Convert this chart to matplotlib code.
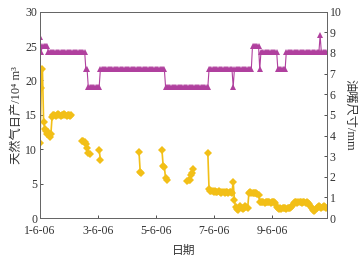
#!/usr/bin/env python3

import matplotlib
matplotlib.use("Agg")
import matplotlib.pyplot as plt
import numpy as np


# hourly samples, x axis in days from 1-6-06
TICK_DAYS = [0, 2, 4, 6, 8]
TICK_LABELS = ["1-6-06", "3-6-06", "5-6-06", "7-6-06", "9-6-06"]

# choke size (right axis), run-length encoded: value, number of hourly samples
CHOKE_MM = [8.75, 8.05, 8.35, 8.05, 7.2, 6.35, 7.2, 6.35, 7.2, 6.35, 7.2,
            8.35, 7.2, 8.05, 7.2, 8.05, 8.85, 8.05]
CHOKE_HOURS = [1, 1, 5, 31, 2, 10, 54, 36, 20, 1, 15, 6, 1, 14, 7, 28, 1, 5]

# gas rate (left axis), recorded in separate stretches
GAS_START_HOUR = [0, 35, 49, 82, 101, 122, 139]
GAS_SEGMENTS = [
    [10.9, 18.9, 21.7, 14.0, 13.0, 12.6, 12.2, 12.5, 11.8, 12.2, 14.7,
     15.0, 15.0, 14.9, 15.0, 15.1, 15.0, 14.9, 15.0, 15.0, 15.1, 15.0,
     14.9, 15.0, 15.0, 14.9, 15.0],
    [11.2, 11.2, 11.1, 10.8, 10.2, 9.5, 9.3],
    [9.9, 8.5],
    [9.6, 6.7, 6.5],
    [9.9, 7.6, 7.4, 5.8, 5.6],
    [5.4, 5.5, 5.6, 6.2, 6.6, 7.1],
    [9.5,
     4.2, 4.0, 3.9, 3.9, 3.8, 3.9, 3.8, 3.8, 3.9, 3.8, 3.7, 3.8, 3.8, 3.7,
     3.8, 3.8, 3.7, 3.8, 3.8, 3.7,
     5.3, 2.6,
     1.6, 1.3, 1.2, 1.4, 1.7, 1.5, 1.3, 1.5, 1.8, 1.6, 1.5,
     3.6, 3.8, 3.7, 3.7, 3.6, 3.7, 3.6, 3.5, 3.4,
     2.4, 2.3, 2.4, 2.3, 2.2, 2.3, 2.4, 2.3, 2.3, 2.2, 2.3, 2.4, 2.3, 2.2,
     1.6, 1.4, 1.3, 1.4, 1.3, 1.4, 1.5, 1.4, 1.3, 1.4, 1.4, 1.5, 1.6, 1.8,
     2.2, 2.3, 2.3, 2.2, 2.3, 2.4, 2.3, 2.2, 2.3, 2.3, 2.2, 2.3, 2.2, 2.0, 1.7,
     1.4, 1.2, 1.1, 1.2, 1.4,
     1.6, 1.7, 1.6, 1.5, 1.6, 1.7, 1.6, 1.5],
]

GAS_COLOR = "#f2bf17"
CHOKE_COLOR = "#b0409e"


def gas_series():
    xs, ys = [], []
    for start, seg in zip(GAS_START_HOUR, GAS_SEGMENTS):
        xs.extend((start + np.arange(len(seg))) / 24.0)
        ys.extend(seg)
        xs.append(np.nan)
        ys.append(np.nan)
    return np.array(xs), np.array(ys)


def main() -> None:
    plt.rcParams.update({
        "font.family": ["Liberation Serif", "Noto Sans CJK SC"],
        "font.size": 8.5,
        "xtick.direction": "in",
        "ytick.direction": "in",
        "axes.linewidth": 0.7,
    })

    fig = plt.figure(figsize=(3.62, 2.59), dpi=100)
    ax = fig.add_axes([0.1105, 0.158, 0.7925, 0.797])
    ax2 = ax.twinx()

    choke = np.repeat(CHOKE_MM, CHOKE_HOURS)
    choke_x = np.arange(len(choke)) / 24.0
    ax2.plot(choke_x, choke, color=CHOKE_COLOR, linewidth=0.8,
             marker="^", markersize=4.2, markeredgewidth=0)

    gx, gy = gas_series()
    ax.plot(gx, gy, color=GAS_COLOR, linewidth=1.2,
            marker="D", markersize=3.8, markeredgewidth=0)

    ax.set_xlim(0, 9.9)
    ax.set_ylim(0, 30)
    ax2.set_ylim(0, 10)
    ax.set_xticks(TICK_DAYS)
    ax.set_xticklabels(TICK_LABELS)
    ax.set_yticks(range(0, 31, 5))
    ax2.set_yticks(range(0, 11))
    for a in (ax, ax2):
        a.tick_params(length=2.5, width=0.6, pad=2, colors="#333333")
        for s in a.spines.values():
            s.set_color("#666666")
    ax.tick_params(axis="x", pad=5)

    ax.set_xlabel("日期", fontsize=8.5, labelpad=6, color="#333333")
    ax.set_ylabel("天然气日产/10⁴ m³", fontsize=8.8, labelpad=2, color="#333333")
    ax2.set_ylabel("油嘴尺寸/mm", fontsize=8.8, rotation=-90, labelpad=10,
                   color="#333333")

    fig.savefig("out.png", dpi=100)
    plt.close(fig)


if __name__ == "__main__":
    main()
